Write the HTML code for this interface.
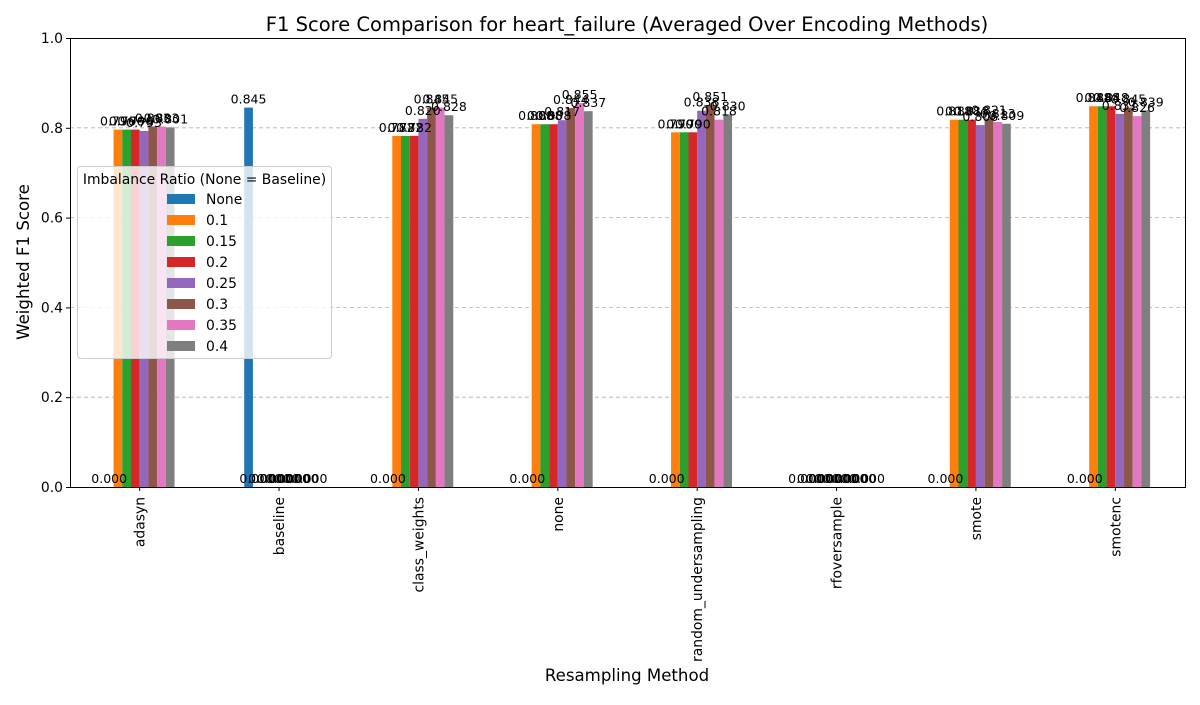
<!DOCTYPE html>
<html><head><meta charset="utf-8"><style>
body{margin:0;background:#fff;}
svg text{font-family:"DejaVu Sans","Liberation Sans",sans-serif;}
</style></head><body>
<svg id="chart" width="1200" height="700" xmlns="http://www.w3.org/2000/svg">
<rect width="1200" height="700" fill="#fff"/>
<text x="627" y="31" font-size="19.5" text-anchor="middle" fill="#000">F1 Score Comparison for heart_failure (Averaged Over Encoding Methods)</text>
<g id="grid"></g>
<g id="bars"></g>
<g id="labels"></g>
<rect x="70.5" y="38.5" width="1115" height="449" fill="none" stroke="#000" stroke-width="1"/>
<g id="axes"></g>
<text x="627" y="681" font-size="16.6" text-anchor="middle">Resampling Method</text>
<text transform="translate(29,262) rotate(-90)" font-size="16.6" text-anchor="middle">Weighted F1 Score</text>
<g id="legend"></g>
</svg>
<script>
const categories=["adasyn","baseline","class_weights","none","random_undersampling","rfoversample","smote","smotenc"];
const seriesNames=["None","0.1","0.15","0.2","0.25","0.3","0.35","0.4"];
const sNone=[0,0.845,0,0,0,0,0,0];
const s010=[0.796,0,0.782,0.808,0.790,0,0.818,0.848];
const s015=[0.796,0,0.782,0.808,0.790,0,0.818,0.848];
const s020=[0.796,0,0.782,0.808,0.790,0,0.818,0.848];
const s025=[0.793,0,0.820,0.817,0.838,0,0.806,0.831];
const s030=[0.803,0,0.845,0.844,0.851,0,0.821,0.845];
const s035=[0.803,0,0.845,0.855,0.818,0,0.813,0.826];
const s040=[0.801,0,0.828,0.837,0.830,0,0.809,0.839];
const yTicks=[0,0.2,0.4,0.6,0.8,1.0];
const series=[sNone,s010,s015,s020,s025,s030,s035,s040];
const colors=["#1f77b4","#ff7f0e","#2ca02c","#d62728","#9467bd","#8c564b","#e377c2","#7f7f7f"];
const NS="http://www.w3.org/2000/svg";
const X0=70,X1=1185,Y0=487,Y1=38;
const step=(X1-X0)/categories.length;
const bw=step*0.5/series.length;
function xc(i){return X0+(i+0.5)*step;}
function ys(v){return Y0-(Y0-Y1)*v;}
function mk(tag,attrs,parent){const e=document.createElementNS(NS,tag);for(const k in attrs)e.setAttribute(k,attrs[k]);parent.appendChild(e);return e;}
const grid=document.getElementById('grid'),bars=document.getElementById('bars'),labels=document.getElementById('labels'),axes=document.getElementById('axes'),legend=document.getElementById('legend');
yTicks.forEach(t=>{
  if(t>0&&t<1){const g=mk('line',{x1:X0,x2:X1,y1:ys(t),y2:ys(t),stroke:'#b0b0b0','stroke-dasharray':'4,3','stroke-width':0.8},grid);
  
  }
  const tk=mk('line',{x1:X0-4,x2:X0,y1:ys(t)+0.5,y2:ys(t)+0.5,stroke:'#000'},axes);
  
  
  const tl=mk('text',{x:X0-7,y:ys(t)+5,'font-size':13.9,'text-anchor':'end'},axes);
  tl.textContent=t.toFixed(1);
  
  
});
categories.forEach((c,i)=>{
  const x=xc(i);
  const tk=mk('line',{x1:x,x2:x,y1:Y0,y2:Y0+4,stroke:'#000'},axes);
  
  
  const tl=mk('text',{transform:`translate(${x+5},${Y0+10}) rotate(-90)`,'font-size':13.9,'text-anchor':'end'},axes);
  tl.textContent=c;
  
  
  series.forEach((s,j)=>{
    const v=s[i];const bx=x+(j-3.5)*bw;
    const r=mk('rect',{x:bx-bw/2,y:ys(v),width:bw,height:Y0-ys(v),fill:colors[j]},bars);
    
    
    const t=mk('text',{x:bx,y:ys(v)-4,'font-size':12.5,'text-anchor':'middle'},labels);
    t.textContent=v.toFixed(3);
    
    
  });
});
const lb=mk('rect',{x:77.5,y:166.5,width:254,height:192,rx:3,fill:'#fff','fill-opacity':0.8,stroke:'#ccc'},legend);


const lt=mk('text',{x:204.5,y:184,'font-size':13.9,'text-anchor':'middle'},legend);
lt.textContent='Imbalance Ratio (None = Baseline)';


seriesNames.forEach((n,j)=>{
  const y=199+j*21;
  const p=mk('rect',{x:167,y:y-5,width:28,height:10,fill:colors[j]},legend);
  
  
  const t=mk('text',{x:206,y:y+5,'font-size':13.9},legend);
  t.textContent=n;
  
  
});
</script>
</body></html>
